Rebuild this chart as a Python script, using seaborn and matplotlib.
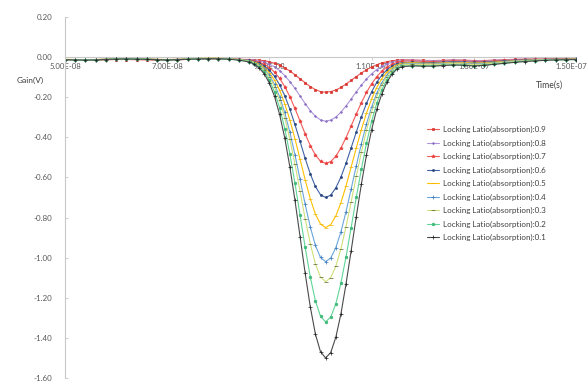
import matplotlib
matplotlib.use("Agg")
import matplotlib.pyplot as plt
import matplotlib.transforms as mtransforms
import seaborn as sns
import pandas as pd

# ---------------- data ----------------
time_ns = [50, 52, 54, 56, 58, 60, 62, 64, 66, 68, 70, 72, 74, 76, 78, 80, 82, 84,
           86, 87, 88, 89, 90, 91, 92, 93, 94, 95, 96, 97, 98, 99, 100, 101, 102, 103,
           104, 105, 106, 107, 108, 109, 110, 111, 112, 113, 114, 115, 116,
           118, 120, 122, 124, 126, 128, 130, 132, 134, 136, 138, 140, 142, 144, 146, 148, 150]

gain_09 = ([-0.013, -0.014, -0.015, -0.015, -0.013, -0.012, -0.012, -0.013, -0.014, -0.015, -0.015, -0.013, -0.011, -0.009, -0.008, -0.008, -0.009, -0.011]
           + [-0.012, -0.013, -0.015, -0.018, -0.023, -0.031, -0.041, -0.054, -0.069, -0.088, -0.108, -0.128, -0.147, -0.162, -0.172, -0.175, -0.172, -0.164, -0.151, -0.134, -0.116, -0.097, -0.079, -0.063, -0.049, -0.038, -0.029, -0.023, -0.018, -0.015, -0.013]
           + [-0.014, -0.016, -0.017, -0.016, -0.014, -0.015, -0.017, -0.017, -0.015, -0.013, -0.011, -0.010, -0.010, -0.010, -0.009, -0.009, -0.009])
gain_08 = ([-0.012, -0.013, -0.013, -0.012, -0.011, -0.009, -0.008, -0.009, -0.011, -0.012, -0.012, -0.011, -0.010, -0.008, -0.007, -0.007, -0.009, -0.011]
           + [-0.013, -0.015, -0.019, -0.025, -0.035, -0.049, -0.067, -0.092, -0.122, -0.156, -0.194, -0.232, -0.267, -0.295, -0.313, -0.320, -0.314, -0.299, -0.274, -0.243, -0.209, -0.173, -0.140, -0.109, -0.083, -0.062, -0.046, -0.034, -0.025, -0.020, -0.016]
           + [-0.015, -0.017, -0.018, -0.017, -0.015, -0.016, -0.018, -0.018, -0.016, -0.014, -0.012, -0.011, -0.010, -0.010, -0.009, -0.009, -0.009])
gain_07 = ([-0.013, -0.013, -0.014, -0.014, -0.012, -0.010, -0.009, -0.010, -0.011, -0.013, -0.014, -0.013, -0.011, -0.009, -0.008, -0.008, -0.009, -0.012]
           + [-0.015, -0.019, -0.025, -0.036, -0.052, -0.075, -0.106, -0.147, -0.197, -0.256, -0.319, -0.383, -0.441, -0.488, -0.519, -0.530, -0.521, -0.494, -0.453, -0.401, -0.343, -0.284, -0.227, -0.176, -0.133, -0.098, -0.070, -0.050, -0.036, -0.026, -0.020]
           + [-0.019, -0.021, -0.022, -0.020, -0.018, -0.019, -0.021, -0.021, -0.019, -0.016, -0.014, -0.012, -0.011, -0.011, -0.010, -0.010, -0.010])
gain_06 = ([-0.012, -0.013, -0.014, -0.013, -0.011, -0.009, -0.008, -0.009, -0.010, -0.012, -0.013, -0.012, -0.010, -0.008, -0.007, -0.007, -0.009, -0.012]
           + [-0.016, -0.022, -0.030, -0.044, -0.066, -0.096, -0.138, -0.192, -0.259, -0.336, -0.420, -0.505, -0.582, -0.645, -0.686, -0.700, -0.688, -0.652, -0.598, -0.529, -0.452, -0.374, -0.298, -0.231, -0.173, -0.126, -0.090, -0.063, -0.044, -0.032, -0.027]
           + [-0.025, -0.027, -0.027, -0.025, -0.022, -0.024, -0.026, -0.025, -0.022, -0.019, -0.016, -0.014, -0.013, -0.012, -0.011, -0.011, -0.010])
gain_05 = ([-0.011, -0.012, -0.013, -0.012, -0.010, -0.008, -0.007, -0.008, -0.009, -0.011, -0.012, -0.011, -0.009, -0.007, -0.006, -0.006, -0.008, -0.012]
           + [-0.018, -0.024, -0.035, -0.052, -0.078, -0.115, -0.165, -0.232, -0.313, -0.407, -0.509, -0.612, -0.706, -0.783, -0.832, -0.850, -0.835, -0.792, -0.726, -0.642, -0.548, -0.453, -0.361, -0.279, -0.209, -0.152, -0.107, -0.075, -0.053, -0.038, -0.030]
           + [-0.028, -0.030, -0.031, -0.029, -0.026, -0.028, -0.030, -0.029, -0.025, -0.022, -0.018, -0.016, -0.014, -0.013, -0.011, -0.011, -0.010])
gain_04 = ([-0.012, -0.013, -0.014, -0.013, -0.011, -0.009, -0.008, -0.009, -0.010, -0.012, -0.013, -0.012, -0.010, -0.008, -0.007, -0.007, -0.009, -0.013]
           + [-0.019, -0.027, -0.040, -0.060, -0.091, -0.136, -0.197, -0.276, -0.374, -0.487, -0.610, -0.734, -0.847, -0.939, -0.999, -1.020, -1.002, -0.950, -0.871, -0.770, -0.657, -0.542, -0.432, -0.333, -0.249, -0.180, -0.127, -0.089, -0.062, -0.044, -0.035]
           + [-0.032, -0.034, -0.035, -0.032, -0.029, -0.031, -0.034, -0.032, -0.028, -0.024, -0.020, -0.017, -0.015, -0.013, -0.012, -0.012, -0.011])
gain_03 = ([-0.012, -0.013, -0.014, -0.013, -0.011, -0.009, -0.008, -0.009, -0.010, -0.012, -0.013, -0.012, -0.010, -0.008, -0.007, -0.007, -0.009, -0.013]
           + [-0.020, -0.029, -0.043, -0.065, -0.099, -0.148, -0.216, -0.303, -0.410, -0.534, -0.669, -0.806, -0.930, -1.031, -1.097, -1.120, -1.100, -1.043, -0.956, -0.845, -0.722, -0.595, -0.474, -0.365, -0.273, -0.197, -0.139, -0.097, -0.067, -0.047, -0.038]
           + [-0.035, -0.037, -0.038, -0.035, -0.032, -0.034, -0.037, -0.035, -0.030, -0.026, -0.022, -0.018, -0.016, -0.014, -0.012, -0.012, -0.011])
gain_02 = ([-0.013, -0.014, -0.015, -0.014, -0.012, -0.010, -0.009, -0.010, -0.011, -0.013, -0.014, -0.013, -0.011, -0.009, -0.008, -0.008, -0.010, -0.014]
           + [-0.022, -0.032, -0.049, -0.075, -0.115, -0.173, -0.252, -0.356, -0.482, -0.629, -0.788, -0.949, -1.096, -1.215, -1.292, -1.320, -1.296, -1.230, -1.126, -0.995, -0.850, -0.700, -0.558, -0.429, -0.320, -0.231, -0.162, -0.112, -0.077, -0.054, -0.045]
           + [-0.042, -0.043, -0.044, -0.041, -0.038, -0.040, -0.043, -0.040, -0.035, -0.030, -0.025, -0.021, -0.018, -0.015, -0.013, -0.013, -0.012])
gain_01 = ([-0.013, -0.014, -0.015, -0.014, -0.012, -0.010, -0.009, -0.010, -0.011, -0.013, -0.014, -0.013, -0.011, -0.009, -0.008, -0.008, -0.010, -0.015]
           + [-0.024, -0.035, -0.054, -0.084, -0.130, -0.196, -0.286, -0.403, -0.547, -0.714, -0.895, -1.078, -1.245, -1.381, -1.469, -1.500, -1.473, -1.397, -1.280, -1.130, -0.965, -0.795, -0.633, -0.487, -0.362, -0.261, -0.183, -0.125, -0.085, -0.058, -0.047]
           + [-0.044, -0.045, -0.045, -0.042, -0.039, -0.041, -0.044, -0.041, -0.036, -0.031, -0.026, -0.022, -0.019, -0.016, -0.014, -0.013, -0.012])

series_labels = ["Locking Latio(absorption):0.9", "Locking Latio(absorption):0.8",
                 "Locking Latio(absorption):0.7", "Locking Latio(absorption):0.6",
                 "Locking Latio(absorption):0.5", "Locking Latio(absorption):0.4",
                 "Locking Latio(absorption):0.3", "Locking Latio(absorption):0.2",
                 "Locking Latio(absorption):0.1"]
series_values = [gain_09, gain_08, gain_07, gain_06, gain_05, gain_04, gain_03, gain_02, gain_01]

x_ticks = [5e-8, 7e-8, 9e-8, 1.1e-7, 1.3e-7, 1.5e-7]
x_tick_labels = ["5.00E-08", "7.00E-08", "9.00E-08", "1.10E-07", "1.30E-07", "1.50E-07"]
y_ticks = [0.2, 0.0, -0.2, -0.4, -0.6, -0.8, -1.0, -1.2, -1.4, -1.6]
y_tick_labels = ["0.20", "0.00", "-0.20", "-0.40", "-0.60", "-0.80", "-1.00", "-1.20", "-1.40", "-1.60"]

# ---------------- style ----------------
line_colors = ["#E85A55", "#AE97DA", "#F25C5A", "#3F62A5", "#FFC000",
               "#6AA6DC", "#CFE07A", "#5FD597", "#4A4A4A"]
marker_colors = ["#D9342E", "#8A6BC2", "#E8403E", "#2A467F", "#F0B000",
                 "#3A79B8", "#4F6228", "#3FB878", "#202020"]
markers = ["s", ".", "*", "o", "_", "+", "_", "o", "+"]
marker_sizes = [1.8, 2.4, 2.6, 1.5, 2.4, 2.6, 2.4, 1.9, 2.6]

sns.set_theme(style="white")
plt.rcParams["font.family"] = ["Lato", "DejaVu Sans"]

fig = plt.figure(figsize=(5.88, 3.82), dpi=100)
ax = fig.add_axes([65 / 588, 1 - 378 / 382, (576 - 65) / 588, (378 - 17) / 382])

time_s = [t * 1e-9 for t in time_ns]
for lab, vals, lc, mc, mk, ms in zip(series_labels, series_values, line_colors,
                                     marker_colors, markers, marker_sizes):
    df = pd.DataFrame({"time": time_s, "gain": vals})
    sns.lineplot(data=df, x="time", y="gain", ax=ax, color=lc, linewidth=0.8,
                 marker=mk, markersize=ms, markeredgewidth=0.5,
                 markerfacecolor=mc, markeredgecolor=mc,
                 label=lab, estimator=None, sort=False)

ax.set_xlim(5e-8, 1.5e-7)
ax.set_ylim(-1.6, 0.2)
ax.set_xticks(x_ticks)
ax.set_xticklabels(x_tick_labels)
ax.set_yticks(y_ticks)
ax.set_yticklabels(y_tick_labels)
ax.set_xlabel("")
ax.set_ylabel("")

for s in ["top", "right"]:
    ax.spines[s].set_visible(False)
ax.spines["bottom"].set_position(("data", 0))
ax.spines["bottom"].set_color("#C8C8C8")
ax.spines["left"].set_color("#C8C8C8")
ax.spines["bottom"].set_linewidth(0.8)
ax.spines["left"].set_linewidth(0.8)
ax.spines["bottom"].set_zorder(0)

ax.tick_params(axis="x", direction="out", length=2, width=0.6, color="#C8C8C8",
               labelsize=5.6, labelcolor="#595959", pad=2.5)
ax.tick_params(axis="y", direction="in", length=2, width=0.6, color="#C8C8C8",
               labelsize=5.8, labelcolor="#595959", pad=9)
ax.tick_params(axis="both", which="both", bottom=True, left=True)
ax.grid(False)
ax.patch.set_alpha(0)

# nudge the last x tick label slightly left so it stays inside the canvas
last_lab = ax.get_xticklabels()[-1]
last_lab.set_transform(last_lab.get_transform()
                       + mtransforms.ScaledTranslation(-5 / 100, 0, fig.dpi_scale_trans))

fig.text(30 / 588, 1 - 80 / 382, "Gain(V)", fontsize=6.0, color="#404040",
         ha="center", va="center")
fig.text(549 / 588, 1 - 85 / 382, "Time(s)", fontsize=6.2, color="#404040",
         ha="center", va="center")

leg = ax.legend(loc="upper left", bbox_to_anchor=(424 / 588, 1 - 123 / 382),
                bbox_transform=fig.transFigure, frameon=False, fontsize=5.8,
                handlelength=1.5, handletextpad=0.4, labelspacing=0.78,
                borderaxespad=0)
for txt in leg.get_texts():
    txt.set_color("#404040")

fig.savefig("out.png", dpi=100)
